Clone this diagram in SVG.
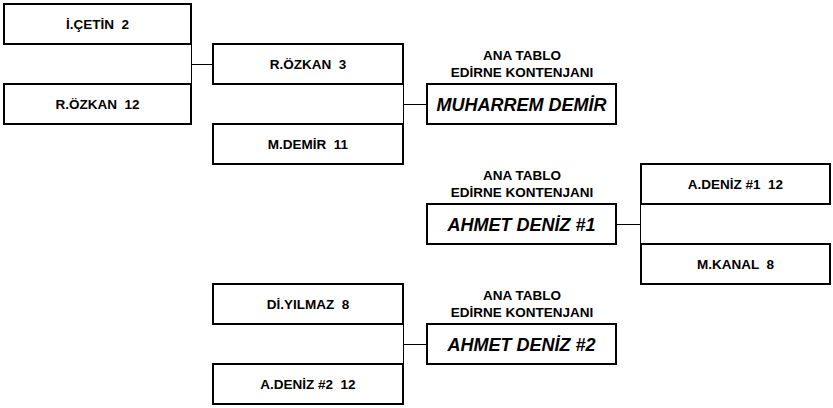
<svg xmlns="http://www.w3.org/2000/svg" width="833" height="408" viewBox="0 0 833 408">
<style>
.box{fill:#fff;stroke:#000;stroke-width:2}
.t{font-family:"Liberation Sans",Arial,sans-serif;font-weight:bold;font-size:13.5px;fill:#000;text-anchor:middle;white-space:pre}
.big{font-family:"Liberation Sans",Arial,sans-serif;font-weight:bold;font-style:italic;font-size:18px;fill:#000;text-anchor:middle}
.cap{font-family:"Liberation Sans",Arial,sans-serif;font-weight:bold;font-size:13.5px;fill:#000;text-anchor:middle}
.ln{stroke:#000;stroke-width:1;fill:none}
</style>
<rect width="833" height="408" fill="#fff"/>
<g id="connectors">
<path class="ln" d="M191.5 44V84M191 64.5H213"/>
<path class="ln" d="M403.5 84V124M403 104.5H427"/>
<path class="ln" d="M640.5 204V244M616 224.5H641"/>
<path class="ln" d="M403.5 324V364M403 344.5H427"/>
</g>
<g id="n-cetin"><rect class="box" x="4" y="4" width="187" height="40"/><text class="t" x="97.5" y="29">İ.ÇETİN  2</text></g>
<g id="n-ozkan12"><rect class="box" x="4" y="84" width="187" height="40"/><text class="t" x="97.5" y="109">R.ÖZKAN  12</text></g>
<g id="n-ozkan3"><rect class="box" x="213" y="44" width="190" height="40"/><text class="t" x="308" y="69">R.ÖZKAN  3</text></g>
<g id="n-demir11"><rect class="box" x="213" y="124" width="190" height="40"/><text class="t" x="308" y="149">M.DEMİR  11</text></g>
<g id="n-muharrem"><text class="cap" x="522" y="60">ANA TABLO</text><text class="cap" x="522" y="77">EDİRNE KONTENJANI</text><rect class="box" x="427" y="84" width="189" height="40"/><text class="big" x="521.5" y="111">MUHARREM DEMİR</text></g>
<g id="n-deniz1-12"><rect class="box" x="641" y="164" width="189" height="40"/><text class="t" x="735.5" y="189">A.DENİZ #1  12</text></g>
<g id="n-kanal"><rect class="box" x="641" y="244" width="189" height="40"/><text class="t" x="735.5" y="269">M.KANAL  8</text></g>
<g id="n-ahmet1"><text class="cap" x="522" y="180">ANA TABLO</text><text class="cap" x="522" y="197">EDİRNE KONTENJANI</text><rect class="box" x="427" y="204" width="189" height="40"/><text class="big" x="521.5" y="231">AHMET DENİZ #1</text></g>
<g id="n-yilmaz"><rect class="box" x="213" y="284" width="190" height="40"/><text class="t" x="308" y="309">Dİ.YILMAZ  8</text></g>
<g id="n-deniz2-12"><rect class="box" x="213" y="364" width="190" height="40"/><text class="t" x="308" y="389">A.DENİZ #2  12</text></g>
<g id="n-ahmet2"><text class="cap" x="522" y="300">ANA TABLO</text><text class="cap" x="522" y="317">EDİRNE KONTENJANI</text><rect class="box" x="427" y="324" width="189" height="40"/><text class="big" x="521.5" y="351">AHMET DENİZ #2</text></g>
</svg>
